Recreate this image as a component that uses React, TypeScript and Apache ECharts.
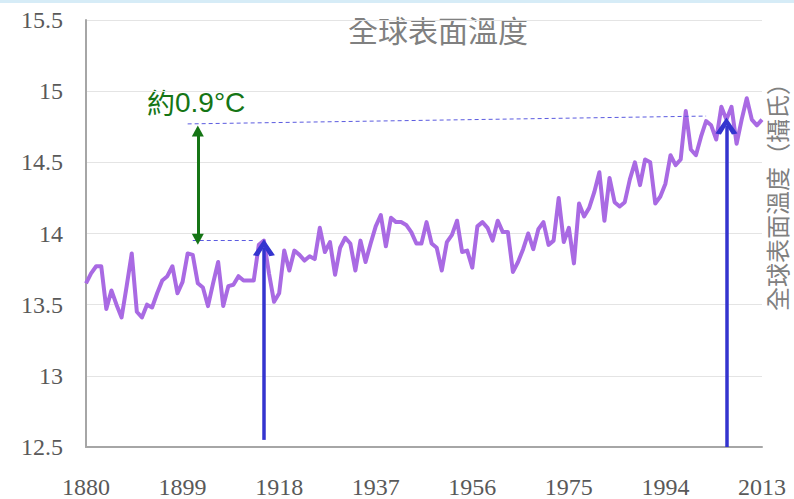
import React, { useEffect, useRef } from "react";
import * as echarts from "echarts";

// Categories: years 1880..2013
const years: string[] = [];
for (let y = 1880; y <= 2013; y++) years.push(String(y));

// Global surface temperature (°C)
const temps: number[] = [
  13.65, 13.72, 13.77, 13.77, 13.47, 13.6, 13.5, 13.41, 13.63, 13.86,
  13.45, 13.41, 13.5, 13.48, 13.58, 13.67, 13.7, 13.77, 13.58, 13.66,
  13.86, 13.85, 13.65, 13.62, 13.49, 13.65, 13.8, 13.49, 13.63, 13.64,
  13.7, 13.67, 13.67, 13.67, 13.92, 13.95, 13.72, 13.52, 13.58, 13.88,
  13.74, 13.88, 13.85, 13.81, 13.84, 13.82, 14.04, 13.87, 13.94, 13.71,
  13.9, 13.97, 13.93, 13.74, 13.95, 13.8, 13.93, 14.05, 14.13, 13.91,
  14.11, 14.08, 14.08, 14.06, 14.01, 13.93, 13.93, 14.08, 13.93, 13.9,
  13.74, 13.94, 13.99, 14.09, 13.87, 13.88, 13.76, 14.05, 14.08, 14.04,
  13.95, 14.09, 14.01, 14.01, 13.73, 13.8, 13.89, 14.0, 13.89, 14.03,
  14.08, 13.92, 13.95, 14.25, 13.94, 14.04, 13.79, 14.21, 14.12, 14.18,
  14.29, 14.43, 14.09, 14.39, 14.22, 14.19, 14.22, 14.38, 14.5, 14.34,
  14.52, 14.5, 14.21, 14.26, 14.35, 14.55, 14.48, 14.52, 14.86, 14.59,
  14.55, 14.68, 14.79, 14.76, 14.66, 14.89, 14.8, 14.89, 14.63, 14.8,
  14.95, 14.8, 14.76, 14.8,
];

// Y axis scale
const yMin = 12.5;
const yMax = 15.5;
const yStep = 0.5;

// Annotation anchors (data space)
const arrowEarly = { year: "1915", from: 12.55, to: 13.9 };
const arrowLate = { year: "2006", from: 12.5, to: 14.755 };
const diffArrow = { year: "1902", from: 13.96, to: 14.72 };
const dashTop = { fromYear: "1900", fromVal: 14.77, toYear: "2002", toVal: 14.825 };
const dashLow = { fromYear: "1901", toYear: "1913", val: 13.955 };

const titleText = "全球表面溫度";
const axisName = "全球表面溫度（攝氏）";
const diffPrefix = "約";
const diffText = "0.9°C";

const chevron = "path://M0,10 L6,0 L12,10 L9,10.6 L6,5 L3,10.6 Z";
const triangle = "path://M5,0 L10,10 L0,10 Z";

const serif = "'Liberation Serif', 'Times New Roman', serif";

export default function App() {
  const ref = useRef<HTMLDivElement>(null);

  useEffect(() => {
    if (!ref.current) return;
    const chart = echarts.init(ref.current, null, { renderer: "svg" });
    const blue = "#3434cf";
    const green = "#157515";
    const dash = "#5b5be0";

    chart.setOption({
      animation: false,
      backgroundColor: "#ffffff",
      grid: { left: 86, right: 32, top: 20, bottom: 52, containLabel: false },
      xAxis: {
        type: "category",
        data: years,
        boundaryGap: false,
        axisLine: { show: true, lineStyle: { color: "#a6a6a6", width: 2 } },
        axisTick: { show: false },
        axisLabel: {
          interval: 18,
          margin: 28,
          color: "#595959",
          fontFamily: serif,
          fontSize: 24,
        },
        splitLine: { show: false },
      },
      yAxis: {
        type: "value",
        min: yMin,
        max: yMax,
        interval: yStep,
        axisLine: { show: true, lineStyle: { color: "#a6a6a6", width: 2 } },
        axisTick: { show: false },
        axisLabel: {
          margin: 23,
          color: "#595959",
          fontFamily: serif,
          fontSize: 24,
        },
        splitLine: { lineStyle: { color: "#e4e4e4", width: 1 } },
      },
      series: [
        {
          type: "line",
          data: temps,
          symbol: "none",
          silent: true,
          lineStyle: { color: "#a96ae3", width: 4, join: "round" },
          markLine: {
            silent: true,
            animation: false,
            label: { show: false },
            emphasis: { disabled: true },
            data: [
              [
                {
                  coord: [dashTop.fromYear, dashTop.fromVal],
                  symbol: "none",
                  lineStyle: { color: dash, width: 1, type: [4, 3] },
                },
                { coord: [dashTop.toYear, dashTop.toVal], symbol: "none" },
              ],
              [
                {
                  coord: [dashLow.fromYear, dashLow.val],
                  symbol: "none",
                  lineStyle: { color: dash, width: 1, type: [4, 3] },
                },
                { coord: [dashLow.toYear, dashLow.val], symbol: "none" },
              ],
              [
                {
                  coord: [arrowEarly.year, arrowEarly.from],
                  symbol: "none",
                  lineStyle: { color: blue, width: 3.5, type: "solid" },
                },
                {
                  coord: [arrowEarly.year, arrowEarly.to],
                  symbol: chevron,
                  symbolSize: [22, 17],
                  itemStyle: { color: blue },
                },
              ],
              [
                {
                  coord: [arrowLate.year, arrowLate.from],
                  symbol: "none",
                  lineStyle: { color: blue, width: 3.5, type: "solid" },
                },
                {
                  coord: [arrowLate.year, arrowLate.to],
                  symbol: chevron,
                  symbolSize: [22, 17],
                  itemStyle: { color: blue },
                },
              ],
              [
                {
                  coord: [diffArrow.year, diffArrow.from],
                  symbol: triangle,
                  symbolSize: [12, 11],
                  itemStyle: { color: green },
                  lineStyle: { color: green, width: 3, type: "solid" },
                },
                {
                  coord: [diffArrow.year, diffArrow.to],
                  symbol: triangle,
                  symbolSize: [12, 11],
                  itemStyle: { color: green },
                },
              ],
            ],
          },
        },
      ],
      graphic: [
        {
          type: "rect",
          left: 0,
          top: 0,
          shape: { width: 794, height: 3 },
          style: { fill: "#d6ecf7" },
          silent: true,
        },
        {
          type: "text",
          x: 438,
          y: 29,
          style: {
            text: titleText,
            fill: "#808080",
            font: "normal 30px 'Noto Sans CJK TC'",
            align: "center",
            verticalAlign: "middle",
          },
          silent: true,
        },
        {
          type: "text",
          x: 147,
          y: 102,
          style: {
            text: "{a|" + diffPrefix + "}{b|" + diffText + "}",
            verticalAlign: "middle",
            align: "left",
            rich: {
              a: { fill: green, fontSize: 28, fontFamily: "Noto Sans CJK TC", color: green },
              b: { fill: green, fontSize: 28, fontFamily: "Liberation Sans", color: green },
            },
          },
          silent: true,
        },
        {
          type: "text",
          x: 776,
          y: 191,
          rotation: Math.PI / 2,
          style: {
            text: axisName,
            fill: "#808080",
            font: "normal 24px 'Noto Sans CJK TC'",
            align: "center",
            verticalAlign: "middle",
          },
          silent: true,
        },
      ],
    });

    return () => chart.dispose();
  }, []);

  return (
    <div
      ref={ref}
      style={{
        position: "fixed",
        left: 0,
        top: 0,
        width: 794,
        height: 499,
        background: "#ffffff",
      }}
    />
  );
}
